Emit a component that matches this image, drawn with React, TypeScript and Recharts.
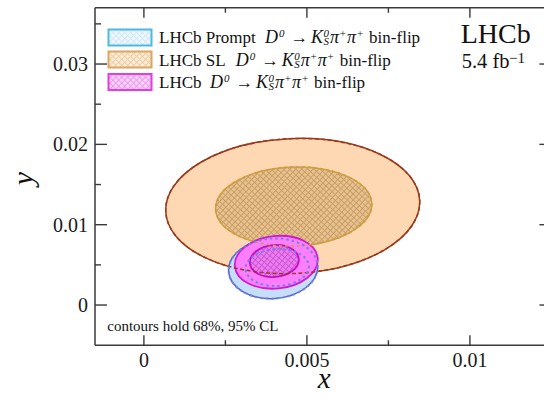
import React from 'react';
import { ComposedChart, Scatter, XAxis, YAxis, ReferenceLine } from 'recharts';

type Pt = { x: number; y: number };

// Each contour is given by the ends of its major axis (L, R) and of its minor axis (T, B)
const slOuter: Pt[] = [
  { x: 0.00067, y: 0.01164 },
  { x: 0.00846, y: 0.01301 },
  { x: 0.00448, y: 0.02071 },
  { x: 0.00465, y: 0.00393 },
];
const slInner: Pt[] = [
  { x: 0.0022, y: 0.01193 },
  { x: 0.00699, y: 0.0126 },
  { x: 0.00455, y: 0.01718 },
  { x: 0.00464, y: 0.00735 },
];
const promptOuter: Pt[] = [
  { x: 0.0026, y: 0.00416 },
  { x: 0.00533, y: 0.00493 },
  { x: 0.0039, y: 0.00833 },
  { x: 0.00403, y: 0.00087 },
];
const promptInner: Pt[] = [
  { x: 0.00312, y: 0.00446 },
  { x: 0.00506, y: 0.00487 },
  { x: 0.00406, y: 0.00697 },
  { x: 0.00412, y: 0.00237 },
];
const combOuter: Pt[] = [
  { x: 0.00279, y: 0.00479 },
  { x: 0.00533, y: 0.00586 },
  { x: 0.00398, y: 0.00858 },
  { x: 0.00414, y: 0.00208 },
];
const combInner: Pt[] = [
  { x: 0.00325, y: 0.00522 },
  { x: 0.00475, y: 0.00574 },
  { x: 0.00396, y: 0.00746 },
  { x: 0.00404, y: 0.0035 },
];

const xTicks = [0, 0.0025, 0.005, 0.0075, 0.01];
const xMajorTicks = [0, 0.005, 0.01];
const xTickLabels = ['0', '0.005', '0.01'];
const yTicks = [0, 0.005, 0.01, 0.015, 0.02, 0.025, 0.03, 0.035];
const yMajorTicks = [0, 0.01, 0.02, 0.03];
const yTickLabels = ['0', '0.01', '0.02', '0.03'];

const legendLabels = ['LHCb Prompt', 'LHCb SL', 'LHCb'];

const FONT = "'Liberation Serif', 'Times New Roman', serif";
const AX = '#3a3a3a';
const PLOT_W = 456.4;
const PLOT_H = 337.4;

const findIdx = (arr: number[], v: number) => arr.findIndex((a) => Math.abs(a - v) < 1e-9);

const XTick = (props: any) => {
  const { x, y, payload } = props;
  const i = findIdx(xMajorTicks, payload.value);
  const len = i >= 0 ? 10 : 5;
  return (
    <g>
      <line x1={x} x2={x} y1={y} y2={y - len} stroke={AX} strokeWidth={1.4} />
      <line x1={x} x2={x} y1={y - PLOT_H} y2={y - PLOT_H + len} stroke={AX} strokeWidth={1.4} />
      {i >= 0 && (
        <text x={x} y={y + 22} textAnchor="middle" fontFamily={FONT} fontSize={20} fill="#1a1a1a">
          {xTickLabels[i]}
        </text>
      )}
    </g>
  );
};

const YTick = (props: any) => {
  const { x, y, payload } = props;
  const i = findIdx(yMajorTicks, payload.value);
  const len = i >= 0 ? 12 : 6;
  return (
    <g>
      <line x1={x} x2={x + len} y1={y} y2={y} stroke={AX} strokeWidth={1.4} />
      <line x1={x + PLOT_W - len} x2={x + PLOT_W} y1={y} y2={y} stroke={AX} strokeWidth={1.4} />
      {i >= 0 && (
        <text x={x - 7} y={y + 6.8} textAnchor="end" fontFamily={FONT} fontSize={20} fill="#1a1a1a">
          {yTickLabels[i]}
        </text>
      )}
    </g>
  );
};

const XTitle = (props: any) => {
  const vb = props.viewBox || { x: 95, y: 345.2, width: PLOT_W, height: 52.8 };
  return (
    <text x={vb.x + vb.width / 2 + 1} y={vb.y + 43} textAnchor="middle" fontFamily={FONT} fontStyle="italic" fontSize={29} fill="#111">
      x
    </text>
  );
};

const YTitle = (props: any) => {
  const vb = props.viewBox || { x: 0, y: 7.8, width: 95, height: PLOT_H };
  const cy = vb.y + vb.height / 2 + 2;
  return (
    <text transform={`translate(${vb.x + 33}, ${cy}) rotate(-90)`} textAnchor="middle" fontFamily={FONT} fontStyle="italic" fontSize={30} fill="#111">
      y
    </text>
  );
};

const hatch = (id: string, base: string, line: string, size = 4.2, w = 0.9) => (
  <pattern id={id} width={size} height={size} patternUnits="userSpaceOnUse" patternTransform="rotate(45)">
    <rect width={size} height={size} fill={base} />
    <path d={`M0 ${size / 2} H${size} M${size / 2} 0 V${size}`} stroke={line} strokeWidth={w} />
  </pattern>
);

type EStyle = { fill: string; stroke: string; strokeWidth: number; dash?: string; defs?: React.ReactNode };

const ellipseLine = (s: EStyle) => (props: any) => {
  const pts = props.points as { x: number; y: number }[];
  if (!pts || pts.length < 4) return <g />;
  const [L, R, T, B] = pts;
  const cx = (L.x + R.x) / 2;
  const cy = (L.y + R.y) / 2;
  const rx = Math.hypot(R.x - L.x, R.y - L.y) / 2;
  const ry = Math.hypot(B.x - T.x, B.y - T.y) / 2;
  const ang = (Math.atan2(R.y - L.y, R.x - L.x) * 180) / Math.PI;
  return (
    <g>
      {s.defs && <defs>{s.defs}</defs>}
      <ellipse
        cx={cx}
        cy={cy}
        rx={rx}
        ry={ry}
        transform={`rotate(${ang} ${cx} ${cy})`}
        fill={s.fill}
        stroke={s.stroke}
        strokeWidth={s.strokeWidth}
        strokeDasharray={s.dash}
      />
    </g>
  );
};

const noDot = () => <g />;

const Swatch = ({ y, fill, stroke }: { y: number; fill: string; stroke: string }) => (
  <rect x={108.5} y={y} width={43} height={16} fill={fill} stroke={stroke} strokeWidth={2} />
);

const Decay = ({ dx, base, label }: { dx: number; base: number; label: string }) => (
  <g fontFamily={FONT} fontSize={17} fill="#111">
    <text x={159} y={base}>{label}</text>
    <text x={dx} y={base} fontSize={18}>
      <tspan fontStyle="italic">D</tspan>
      <tspan fontSize={11} fontStyle="italic" dx={1} dy={-6}>0</tspan>
    </text>
    <text x={dx + 25.5} y={base} fontSize={17.5}>→</text>
    <text x={dx + 46} y={base} fontSize={18}>
      <tspan fontStyle="italic">K</tspan>
      <tspan fontSize={11} fontStyle="italic" dx={0.5} dy={-6}>0</tspan>
      <tspan fontSize={11} fontStyle="italic" dx={-5.5} dy={8}>S</tspan>
      <tspan fontStyle="italic" fontSize={18} dx={1} dy={-2}>π</tspan>
      <tspan fontSize={11} dx={0.8} dy={-6}>+</tspan>
      <tspan fontStyle="italic" fontSize={18} dx={1} dy={6}>π</tspan>
      <tspan fontSize={11} dx={0.8} dy={-6}>+</tspan>
      <tspan fontSize={17} dx={6} dy={6}>bin-flip</tspan>
    </text>
  </g>
);

const Overlay = () => (
  <svg width={544} height={398} style={{ position: 'absolute', left: 0, top: 0, pointerEvents: 'none' }}>
    <defs>
      {hatch('lgP', '#eef7fd', '#cfe8f6')}
      {hatch('lgSL', '#fcebd7', '#edcb9f')}
      {hatch('lgC', '#fad2fa', '#ec96ec')}
    </defs>
    <Swatch y={29.5} fill="url(#lgP)" stroke="#4cb9e2" />
    <Swatch y={51.5} fill="url(#lgSL)" stroke="#d9a862" />
    <Swatch y={74} fill="url(#lgC)" stroke="#e03fe0" />
    <Decay dx={265} base={43.3} label={legendLabels[0]} />
    <Decay dx={235.7} base={65.6} label={legendLabels[1]} />
    <Decay dx={210} base={88} label={legendLabels[2]} />
    <text x={460.7} y={43} fontFamily={FONT} fontSize={28} fill="#111">LHCb</text>
    <text x={461.7} y={68} fontFamily={FONT} fontSize={20.5} fill="#111">5.4 fb</text>
    <text x={509} y={62.5} fontFamily={FONT} fontSize={15} fill="#111">−1</text>
    <text x={107.3} y={331} fontFamily={FONT} fontSize={15} fill="#111">contours hold 68%, 95% CL</text>
  </svg>
);

export default function App() {
  return (
    <div style={{ position: 'absolute', left: 0, top: 0, width: 544, height: 398, overflow: 'hidden', background: '#fff' }}>
      <ComposedChart width={560} height={398} margin={{ top: 7.8, right: 8.6, bottom: 0, left: 0 }}>
        <XAxis
          dataKey="x"
          type="number"
          domain={[-0.0015, 0.0125]}
          allowDataOverflow
          ticks={xTicks}
          interval={0}
          tickSize={0}
          tickMargin={0}
          tick={XTick}
          height={52.8}
          axisLine={{ stroke: AX, strokeWidth: 1.5 }}
          tickLine={false}
          label={{ content: XTitle }}
        />
        <YAxis
          dataKey="y"
          type="number"
          domain={[-0.005, 0.037]}
          allowDataOverflow
          ticks={yTicks}
          interval={0}
          tickSize={0}
          tickMargin={0}
          tick={YTick}
          width={95}
          axisLine={{ stroke: AX, strokeWidth: 1.5 }}
          tickLine={false}
          label={{ content: YTitle }}
        />
        <ReferenceLine y={0.037} stroke={AX} strokeWidth={1.5} />
        <ReferenceLine x={0.0125} stroke={AX} strokeWidth={1.5} />

        <Scatter name="SL 95%" data={slOuter} shape={noDot} isAnimationActive={false}
          line={ellipseLine({ fill: '#fdd8b2', stroke: '#9a3a1c', strokeWidth: 1.5 })} />
        <Scatter name="SL 68%" data={slInner} shape={noDot} isAnimationActive={false}
          line={ellipseLine({ fill: 'url(#hSL)', stroke: '#c9a24a', strokeWidth: 1.5, defs: hatch('hSL', '#e7c290', '#c69c62') })} />
        <Scatter name="Prompt 95%" data={promptOuter} shape={noDot} isAnimationActive={false}
          line={ellipseLine({ fill: '#c6def7', stroke: '#5b5fd0', strokeWidth: 1.5 })} />
        <Scatter name="Prompt 68%" data={promptInner} shape={noDot} isAnimationActive={false}
          line={ellipseLine({ fill: 'url(#hP)', stroke: '#6b8ee0', strokeWidth: 1.5, defs: hatch('hP', '#a9cdf2', '#86aee6') })} />
        <Scatter name="Combined 95%" data={combOuter} shape={noDot} isAnimationActive={false}
          line={ellipseLine({ fill: '#ff7dff', stroke: '#d01ad0', strokeWidth: 1.8 })} />
        <Scatter name="Combined 68%" data={combInner} shape={noDot} isAnimationActive={false}
          line={ellipseLine({ fill: 'url(#hC)', stroke: '#c010c0', strokeWidth: 1.8, defs: hatch('hC', '#f27af2', '#c456d2') })} />

        <Scatter name="SL 95% outline" data={slOuter} shape={noDot} isAnimationActive={false}
          line={ellipseLine({ fill: 'none', stroke: '#9a3a1c', strokeWidth: 1.5, dash: '4 2.5' })} />
        <Scatter name="SL 68% outline" data={slInner} shape={noDot} isAnimationActive={false}
          line={ellipseLine({ fill: 'none', stroke: '#d49a3c', strokeWidth: 1.5, dash: '3 3' })} />
        <Scatter name="Prompt 95% outline" data={promptOuter} shape={noDot} isAnimationActive={false}
          line={ellipseLine({ fill: 'none', stroke: '#6a86e2', strokeWidth: 2, dash: '2.5 3' })} />
        <Scatter name="Prompt 68% outline" data={promptInner} shape={noDot} isAnimationActive={false}
          line={ellipseLine({ fill: 'none', stroke: '#6a86e2', strokeWidth: 2, dash: '2.5 3' })} />
      </ComposedChart>
      <Overlay />
    </div>
  );
}
